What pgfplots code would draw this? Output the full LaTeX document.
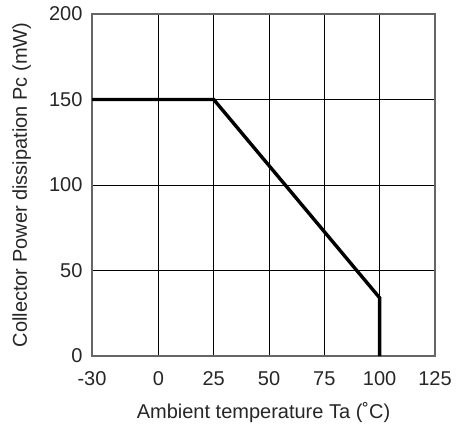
\documentclass[border=0pt]{standalone}
\usepackage{fontspec}
\setmainfont{Liberation Sans}
\usepackage{pgfplots}
\pgfplotsset{compat=1.18}
\begin{document}
\begin{tikzpicture}[x=1pt,y=1pt]
\useasboundingbox (0,0) rectangle (460,426);
\begin{axis}[
  at={(92pt,70pt)}, anchor=south west,
  width=343pt, height=342pt, scale only axis,
  xmin=-30, xmax=125, ymin=0, ymax=200,
  xtick={-30,0,25,50,75,100,125},
  xticklabels={-30,0,25,50,75,100,125},
  ytick={0,50,100,150,200},
  yticklabels={0,50,100,150,200},
  grid=major,
  grid style={black, line width=0.8pt},
  axis line style={black!60, line width=1.2pt},
  tick style={draw=none},
  ticklabel style={font=\fontsize{20}{24}\selectfont, text=black!85},
  xticklabel style={yshift=-12pt},
  yticklabel style={xshift=-6pt},
  label style={font=\fontsize{20}{24}\selectfont, text=black!85},
  xlabel={Ambient temperature Ta (˚C)},
  ylabel={Collector Power dissipation Pc (mW)},
  xlabel style={at={(axis description cs:0.5,-0.165)}, anchor=center},
  ylabel style={at={(axis description cs:-0.205,0.5)}, anchor=center},
]
\addplot[black, line width=3.4pt, line join=miter] coordinates {(-30,150) (25,150) (100,34) (100,0)};
\end{axis}
\end{tikzpicture}
\end{document}
